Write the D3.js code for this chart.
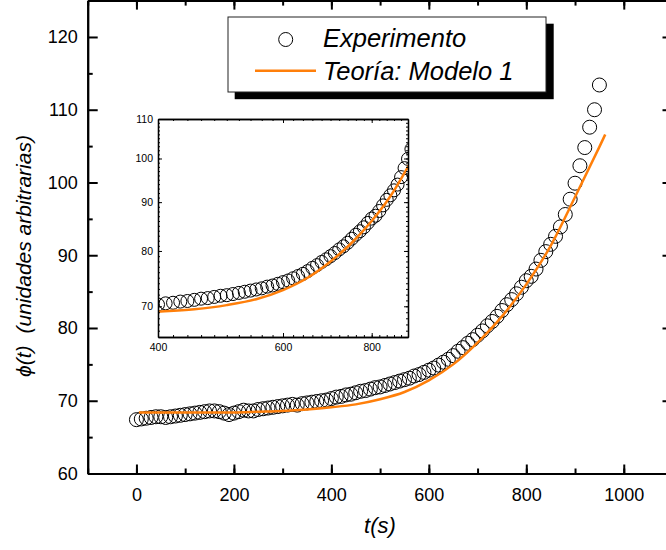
<!DOCTYPE html>
<html>
<head>
<meta charset="utf-8">
<script src="https://cdn.jsdelivr.net/npm/d3@7"></script>
<style>
  body { margin: 0; background: #fff; }
  text { font-family: "Liberation Sans", Arial, sans-serif; }
</style>
</head>
<body>
<div id="chart"></div>
<script>
// experiment: time (s) and phi(t)
const expT = [0,10,20,30,40,50,60,70,80,90,100,110,120,130,140,150,160,170,180,190,
  200,210,220,230,240,250,260,270,280,290,300,310,320,330,340,350,360,370,380,390,
  400,410,420,430,440,450,460,470,480,490,500,510,520,530,540,550,560,570,580,590,
  600,610,620,630,640,650,660,670,680,690,700,710,720,730,740,750,760,770,780,790,
  800,810,820,830,840,850,860,870,880,890,900,910,920,930,940,950];
const expPhi = [67.4,67.5,67.6,67.7,67.8,67.8,67.7,67.8,67.9,68.0,68.1,68.2,68.3,68.4,68.5,68.6,68.6,68.5,68.3,68.1,
  68.3,68.5,68.7,68.6,68.6,68.8,68.9,69.0,69.1,69.2,69.3,69.4,69.5,69.4,69.6,69.7,69.8,69.9,70.0,70.1,
  70.3,70.5,70.6,70.8,70.9,71.1,71.3,71.4,71.6,71.8,71.9,72.1,72.3,72.5,72.7,72.9,73.1,73.4,73.6,73.9,
  74.2,74.5,74.9,75.3,75.7,76.2,76.8,77.3,77.9,78.4,79.0,79.6,80.3,80.9,81.6,82.4,83.2,83.9,84.7,85.6,
  86.5,87.1,88.1,89.3,90.5,91.5,92.6,93.9,95.6,97.7,99.9,102.3,104.8,107.6,110.0,113.4];

// theory: Modelo 1
const theoT =   [5,50,100,150,200,250,300,350,400,450,500,550,600,650,700,750,800,850,900,950,962];
const theoPhi = [68.4,68.4,68.4,68.4,68.4,68.5,68.6,68.8,69.1,69.5,70.2,71.2,72.8,75.0,78.0,81.6,86.0,91.3,98.0,104.9,106.6];

const xTicks = [0,200,400,600,800,1000];
const yTicks = [60,70,80,90,100,110,120];
const inXTicks = [400,600,800];
const inYTicks = [70,80,90,100,110];

const legendLabels = ["Experimento", "Teoría: Modelo 1"];

const orange = "#ff7f0a";

var svg = d3.select("#chart")
  .append("svg")
    .attr("width", 666)
    .attr("height", 550);

// main scales
var x = d3.scaleLinear().domain([-100, 1100]).range([87.7, 672.5]);
var y = d3.scaleLinear().domain([60, 125]).range([473.5, 0.6]);

function styleAxis(g, w) {
  g.select(".domain").attr("stroke-width", w);
  g.selectAll(".tick line").attr("stroke-width", w);
}

// minor ticks
svg.append("g").attr("transform", `translate(0,${y(60)})`)
  .call(d3.axisBottom(x).tickValues(d3.range(-100, 1100, 100)).tickSize(-5).tickSizeOuter(0).tickFormat(""))
  .call(g => styleAxis(g, 2));
svg.append("g").attr("transform", `translate(0,${y(125)})`)
  .call(d3.axisTop(x).tickValues(d3.range(-100, 1100, 100)).tickSize(-5).tickSizeOuter(0).tickFormat(""))
  .call(g => styleAxis(g, 2));
svg.append("g").attr("transform", `translate(${x(-100)},0)`)
  .call(d3.axisLeft(y).tickValues(d3.range(65, 125, 10)).tickSize(-5).tickSizeOuter(0).tickFormat(""))
  .call(g => styleAxis(g, 2));
svg.append("g").attr("transform", `translate(${x(1100)},0)`)
  .call(d3.axisRight(y).tickValues(d3.range(65, 125, 10)).tickSize(-5).tickSizeOuter(0).tickFormat(""))
  .call(g => styleAxis(g, 2));

// major ticks
var xAxis = svg.append("g").attr("transform", `translate(0,${y(60)})`)
  .call(d3.axisBottom(x).tickValues(xTicks).tickSize(-9).tickSizeOuter(0).tickPadding(14.5).tickFormat(d3.format("d")))
  .call(g => styleAxis(g, 2));
svg.append("g").attr("transform", `translate(0,${y(125)})`)
  .call(d3.axisTop(x).tickValues(xTicks).tickSize(-9).tickSizeOuter(0).tickFormat(""))
  .call(g => styleAxis(g, 2));
var yAxis = svg.append("g").attr("transform", `translate(${x(-100)},0)`)
  .call(d3.axisLeft(y).tickValues(yTicks).tickSize(-10).tickSizeOuter(0).tickPadding(10))
  .call(g => styleAxis(g, 2));
svg.append("g").attr("transform", `translate(${x(1100)},0)`)
  .call(d3.axisRight(y).tickValues(yTicks).tickSize(-10).tickSizeOuter(0).tickFormat(""))
  .call(g => styleAxis(g, 2));

svg.selectAll("g text")
  .style("font-size", "18px")
  .attr("fill", "#000")
  .style("font-family", "'Liberation Sans', Arial, sans-serif");

// experiment circles
svg.append("g")
  .selectAll("circle")
  .data(expT)
  .enter()
  .append("circle")
    .attr("cx", (d, i) => x(d))
    .attr("cy", (d, i) => y(expPhi[i]))
    .attr("r", 7)
    .attr("fill", "none")
    .attr("stroke", "#000")
    .attr("stroke-width", 1);

// theory line
var line = d3.line()
  .x((d, i) => x(theoT[i]))
  .y(d => y(d))
  .curve(d3.curveMonotoneX);

svg.append("path")
  .datum(theoPhi)
  .attr("fill", "none")
  .attr("stroke", orange)
  .attr("stroke-width", 2.5)
  .attr("d", line);

// axis titles
svg.append("text")
  .attr("text-anchor", "middle")
  .attr("x", 380)
  .attr("y", 533)
  .style("font-size", "22px")
  .style("font-style", "italic")
  .text("t(s)");

var yl = svg.append("text")
  .attr("transform", "translate(31,377) rotate(-90)")
  .attr("text-anchor", "start")
  .style("font-size", "21px")
  .style("font-style", "italic");
yl.append("tspan").text("\u03d5(t)");
yl.append("tspan").attr("dx", 12).text("(unidades arbitrarias)");

// legend
svg.append("rect")
  .attr("x", 234.7).attr("y", 23.7)
  .attr("width", 319).attr("height", 75.5)
  .attr("fill", "#000");
svg.append("rect")
  .attr("x", 228).attr("y", 17)
  .attr("width", 318).attr("height", 75)
  .attr("fill", "#fff")
  .attr("stroke", "#222")
  .attr("stroke-width", 1);
svg.append("circle")
  .attr("cx", 285.7).attr("cy", 39.5).attr("r", 7)
  .attr("fill", "none").attr("stroke", "#000");
svg.append("line")
  .attr("x1", 255).attr("x2", 316)
  .attr("y1", 70.7).attr("y2", 70.7)
  .attr("stroke", orange).attr("stroke-width", 2.5);
svg.selectAll(".leg")
  .data(legendLabels)
  .enter()
  .append("text")
    .attr("class", "leg")
    .attr("x", 323)
    .attr("y", (d, i) => 47 + i * 33)
    .style("font-size", "25.5px")
    .style("font-style", "italic")
    .text(d => d);

// inset
var xi = d3.scaleLog().domain([400, 900]).range([158, 408]);
var yi = d3.scaleLog().domain([65, 110]).range([337, 119]);

var inset = svg.append("g");
inset.append("rect")
  .attr("x", 158).attr("y", 119)
  .attr("width", 250).attr("height", 218)
  .attr("fill", "#fff");

svg.append("clipPath").attr("id", "inclip")
  .append("rect")
  .attr("x", 158).attr("y", 119)
  .attr("width", 250).attr("height", 218);

var inPts = expT.map((t, i) => [t, expPhi[i]]).filter(d => d[0] >= 390 && d[0] <= 910);
inset.append("g")
  .attr("clip-path", "url(#inclip)")
  .selectAll("circle")
  .data(inPts)
  .enter()
  .append("circle")
    .attr("cx", d => xi(d[0]))
    .attr("cy", d => yi(d[1]))
    .attr("r", 6.5)
    .attr("fill", "none")
    .attr("stroke", "#000")
    .attr("stroke-width", 1);

var inLine = theoT.map((t, i) => [t, theoPhi[i]]).filter(d => d[0] >= 350 && d[0] <= 950);
inset.append("path")
  .attr("clip-path", "url(#inclip)")
  .datum(inLine)
  .attr("fill", "none")
  .attr("stroke", orange)
  .attr("stroke-width", 2.5)
  .attr("d", d3.line().x(d => xi(d[0])).y(d => yi(d[1])).curve(d3.curveMonotoneX));

var inXMinor = d3.range(420, 900, 20);
var inYMinor = d3.range(66, 110, 1);

inset.append("g").attr("transform", "translate(0,337)")
  .call(d3.axisBottom(xi).tickValues(inXMinor).tickSize(-2).tickSizeOuter(0).tickFormat(""));
inset.append("g").attr("transform", "translate(0,119)")
  .call(d3.axisTop(xi).tickValues(inXMinor).tickSize(-2).tickSizeOuter(0).tickFormat(""));
inset.append("g").attr("transform", "translate(158,0)")
  .call(d3.axisLeft(yi).tickValues(inYMinor).tickSize(-2).tickSizeOuter(0).tickFormat(""));
inset.append("g").attr("transform", "translate(408,0)")
  .call(d3.axisRight(yi).tickValues(inYMinor).tickSize(-2).tickSizeOuter(0).tickFormat(""));

inset.append("g").attr("transform", "translate(0,337)")
  .call(d3.axisBottom(xi).tickValues(inXTicks).tickSize(-4).tickSizeOuter(0).tickPadding(6.5).tickFormat(d3.format("d")));
inset.append("g").attr("transform", "translate(0,119)")
  .call(d3.axisTop(xi).tickValues(inXTicks).tickSize(-4).tickSizeOuter(0).tickFormat(""));
inset.append("g").attr("transform", "translate(158,0)")
  .call(d3.axisLeft(yi).tickValues(inYTicks).tickSize(-4).tickSizeOuter(0).tickPadding(5).tickFormat(d3.format("d")));
inset.append("g").attr("transform", "translate(408,0)")
  .call(d3.axisRight(yi).tickValues(inYTicks).tickSize(-4).tickSizeOuter(0).tickFormat(""));

inset.selectAll("text")
  .style("font-size", "10.5px")
  .attr("fill", "#000")
  .style("font-family", "'Liberation Sans', Arial, sans-serif");
inset.selectAll(".domain").attr("stroke-width", 1.3);
</script>
</body>
</html>
